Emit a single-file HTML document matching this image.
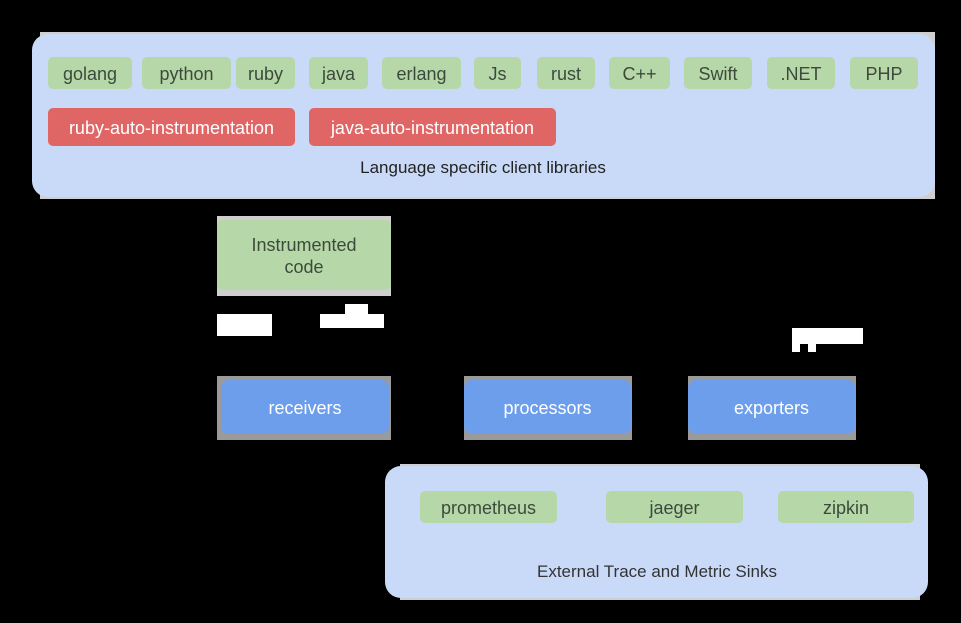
<!DOCTYPE html><html><head><style>
body{margin:0;width:961px;height:623px;background:#000;position:relative;overflow:hidden;font-family:"Liberation Sans",sans-serif}
.a{position:absolute;box-sizing:border-box;display:flex;align-items:center;justify-content:center;text-align:center}
.c{background:#c9daf8;border-radius:16px}
.g{background:#b6d7a8;border-radius:5px;color:#3c4a3c;font-size:18px;padding-top:2px}
.r{background:#e06666;border-radius:5px;color:#fff;font-size:18px;padding-top:2px}
.b{background:#6d9eeb;border-radius:8px;color:#fff;font-size:18px;padding-top:2px}
.s{background:#cfcfcf}
.s2{background:#9a9a9a}
.w{background:#fff}
.t{font-size:17px;color:#222;padding-top:2px}
</style></head><body>
<div class="a s" style="left:40px;top:32px;width:895px;height:167px"></div>
<div class="a c" style="left:32px;top:34px;width:903px;height:163px"></div>
<div class="a g" style="left:48px;top:57px;width:84px;height:32px">golang</div>
<div class="a g" style="left:142px;top:57px;width:89px;height:32px">python</div>
<div class="a g" style="left:236px;top:57px;width:59px;height:32px">ruby</div>
<div class="a g" style="left:309px;top:57px;width:59px;height:32px">java</div>
<div class="a g" style="left:382px;top:57px;width:79px;height:32px">erlang</div>
<div class="a g" style="left:474px;top:57px;width:47px;height:32px">Js</div>
<div class="a g" style="left:537px;top:57px;width:58px;height:32px">rust</div>
<div class="a g" style="left:609px;top:57px;width:61px;height:32px">C++</div>
<div class="a g" style="left:684px;top:57px;width:68px;height:32px">Swift</div>
<div class="a g" style="left:767px;top:57px;width:68px;height:32px">.NET</div>
<div class="a g" style="left:850px;top:57px;width:68px;height:32px">PHP</div>
<div class="a r" style="left:48px;top:108px;width:247px;height:38px">ruby-auto-instrumentation</div>
<div class="a r" style="left:309px;top:108px;width:247px;height:38px">java-auto-instrumentation</div>
<div class="a t" style="left:283px;top:156px;width:400px;height:22px">Language specific client libraries</div>

<div class="a s" style="left:217px;top:216px;width:174px;height:80px"></div>
<div class="a g" style="left:217px;top:220px;width:174px;height:70px;line-height:22px">Instrumented<br>code</div>

<div class="a w" style="left:217px;top:314px;width:55px;height:22px"></div>
<div class="a w" style="left:320px;top:314px;width:64px;height:14px"></div>
<div class="a w" style="left:345px;top:304px;width:23px;height:10px"></div>
<div class="a w" style="left:792px;top:328px;width:71px;height:16px"></div>
<div class="a w" style="left:792px;top:344px;width:8px;height:8px"></div>
<div class="a w" style="left:808px;top:344px;width:8px;height:8px"></div>

<div class="a s2" style="left:217px;top:376px;width:174px;height:64px"></div>
<div class="a b" style="left:221px;top:380px;width:168px;height:54px">receivers</div>
<div class="a s2" style="left:464px;top:376px;width:168px;height:64px"></div>
<div class="a b" style="left:464px;top:380px;width:167px;height:54px">processors</div>
<div class="a s2" style="left:688px;top:376px;width:168px;height:64px"></div>
<div class="a b" style="left:688px;top:380px;width:167px;height:54px">exporters</div>

<div class="a s" style="left:400px;top:464px;width:520px;height:136px"></div>
<div class="a c" style="left:385px;top:466px;width:543px;height:132px"></div>
<div class="a g" style="left:420px;top:491px;width:137px;height:32px">prometheus</div>
<div class="a g" style="left:606px;top:491px;width:137px;height:32px">jaeger</div>
<div class="a g" style="left:778px;top:491px;width:136px;height:32px">zipkin</div>
<div class="a t" style="left:457px;top:560px;width:400px;height:22px;color:#333">External Trace and Metric Sinks</div>
</body></html>
